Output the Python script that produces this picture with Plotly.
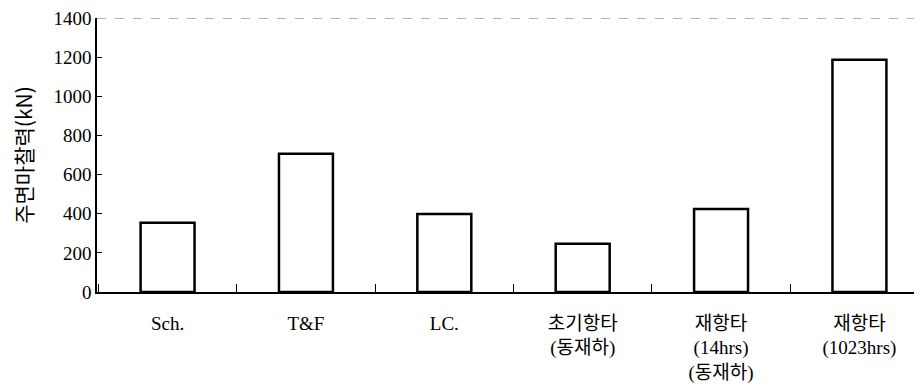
import plotly.graph_objects as go

categories = ["Sch.", "T&amp;F", "LC.", "초기항타<br>(동재하)", "재항타<br>(14hrs)<br>(동재하)", "재항타<br>(1023hrs)"]
values = [354, 707, 399, 247, 424, 1187]
y_ticks = [0, 200, 400, 600, 800, 1000, 1200, 1400]

fig = go.Figure()
fig.add_trace(go.Bar(
    x=categories, y=values, width=0.39,
    marker=dict(color="white", line=dict(color="black", width=2.5)),
))
fig.add_shape(type="line", xref="paper", yref="y", x0=0, x1=1, y0=1400, y1=1400,
              line=dict(color="#666", width=1, dash="dash"))
fig.update_layout(
    width=922, height=386,
    margin=dict(l=89, r=0, t=6, b=102),
    plot_bgcolor="white", paper_bgcolor="white",
    showlegend=False,
    font=dict(family="Liberation Serif, Noto Sans CJK KR", size=16, color="black"),
)
fig.update_xaxes(
    type="category", range=[-0.51, 5.51],
    ticks="inside", tickson="boundaries", ticklen=8, tickwidth=1,
    tickcolor="black", showline=True, linecolor="black", linewidth=1.5,
    showgrid=False, zeroline=False, ticklabelstandoff=13,
    tickfont=dict(family="Liberation Serif, Noto Sans CJK KR", size=19),
)
fig.update_yaxes(
    range=[0, 1400], tickvals=y_ticks, ticks="inside", ticklen=5, tickcolor="black",
    showline=True, linecolor="black", linewidth=1.5, showgrid=False, zeroline=False,
    ticklabeloverflow="allow",
    title=dict(text="주면마찰력(kN)", font=dict(family="Noto Sans CJK KR", size=21), standoff=18),
    tickfont=dict(family="Liberation Serif", size=19),
)
fig.write_html("out.html")
